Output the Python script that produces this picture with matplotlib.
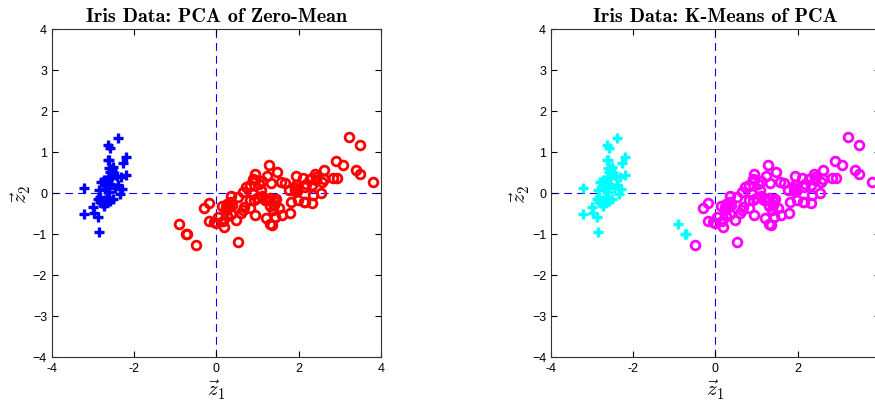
import os
import matplotlib
matplotlib.use('Agg')
import matplotlib.pyplot as plt
from matplotlib.font_manager import FontProperties

plt.rcParams['font.family'] = ['Liberation Sans', 'DejaVu Sans']
plt.rcParams['mathtext.fontset'] = 'cm'

# first two principal components of the zero-mean iris data
z1 = [-2.684, -2.714, -2.889, -2.745, -2.729, -2.281, -2.821, -2.626, -2.886, -2.673,
      -2.507, -2.613, -2.786, -3.224, -2.645, -2.386, -2.624, -2.648, -2.200, -2.588,
      -2.310, -2.544, -3.216, -2.303, -2.356, -2.507, -2.469, -2.562, -2.640, -2.632,
      -2.587, -2.410, -2.649, -2.599, -2.637, -2.866, -2.625, -2.801, -2.981, -2.590,
      -2.770, -2.849, -2.997, -2.406, -2.209, -2.714, -2.538, -2.839, -2.543, -2.703,
      1.285, 0.932, 1.464, 0.183, 1.088, 0.642, 1.095, -0.749, 1.044, -0.009,
      -0.508, 0.512, 0.265, 0.985, -0.174, 0.928, 0.660, 0.236, 0.945, 0.045,
      1.116, 0.358, 1.298, 0.922, 0.715, 0.900, 1.332, 1.558, 0.813, -0.306,
      -0.068, -0.190, 0.136, 1.380, 0.588, 0.807, 1.221, 0.815, 0.246, 0.166,
      0.465, 0.891, 0.231, -0.705, 0.357, 0.332, 0.376, 0.643, -0.906, 0.299,
      2.531, 1.415, 2.617, 1.972, 2.350, 3.397, 0.521, 2.933, 2.321, 2.917,
      1.662, 1.803, 2.166, 1.346, 1.586, 1.904, 1.950, 3.487, 3.796, 1.301,
      2.428, 1.199, 3.500, 1.389, 2.275, 2.614, 1.259, 1.291, 2.124, 2.388,
      2.842, 3.231, 2.159, 1.444, 1.781, 3.076, 2.144, 1.905, 1.169, 2.108,
      2.314, 1.922, 1.415, 2.563, 2.419, 1.944, 1.527, 1.764, 1.901, 1.390]
z2 = [0.319, -0.177, -0.145, -0.318, 0.327, 0.741, -0.089, 0.163, -0.578, -0.114,
      0.645, 0.015, -0.235, -0.511, 1.179, 1.338, 0.811, 0.312, 0.873, 0.514,
      0.391, 0.433, 0.133, 0.099, -0.037, -0.146, 0.131, 0.368, 0.312, -0.197,
      -0.204, 0.411, 0.813, 1.093, -0.121, 0.069, 0.599, 0.269, -0.488, 0.229,
      0.264, -0.941, -0.342, 0.189, 0.437, -0.250, 0.504, -0.228, 0.579, 0.108,
      0.685, 0.318, 0.504, -0.828, 0.075, -0.418, 0.283, -1.005, 0.228, -0.723,
      -1.266, -0.104, -0.550, -0.125, -0.255, 0.467, -0.353, -0.334, -0.543, -0.584,
      -0.085, -0.069, -0.328, -0.183, 0.149, 0.329, 0.244, 0.267, -0.163, -0.368,
      -0.705, -0.680, -0.314, -0.421, -0.484, 0.194, 0.408, -0.372, -0.269, -0.682,
      -0.671, -0.034, -0.404, -1.012, -0.505, -0.213, -0.293, 0.018, -0.756, -0.349,
      -0.010, -0.575, 0.344, -0.180, -0.040, 0.551, -1.193, 0.356, -0.244, 0.783,
      0.242, -0.216, 0.216, -0.777, -0.540, 0.119, 0.042, 1.176, 0.257, -0.761,
      0.378, -0.606, 0.461, -0.204, 0.335, 0.561, -0.180, -0.117, -0.210, 0.465,
      0.375, 1.374, -0.217, -0.143, -0.500, 0.688, 0.140, 0.049, -0.165, 0.372,
      0.184, 0.409, -0.575, 0.278, 0.305, 0.188, -0.375, 0.079, 0.117, -0.283]

n_setosa = 50
# points assigned to the '+' cluster by k-means besides the setosa ones
km_extra = [57, 93, 98]

titles = ['Iris Data: PCA of Zero-Mean', 'Iris Data: K-Means of PCA']
xticks = [-4, -2, 0, 2, 4]
yticks = [-4, -3, -2, -1, 0, 1, 2, 3, 4]

tfont = FontProperties(fname=os.path.join(matplotlib.get_data_path(), 'fonts/ttf/cmb10.ttf'), size=14.5)

fig = plt.figure(figsize=(8.75, 4.02), dpi=100)
ax1 = fig.add_axes([0.0594, 0.1095, 0.376, 0.816])
ax2 = fig.add_axes([0.6297, 0.1095, 0.376, 0.816])

plus1 = list(range(n_setosa))
circ1 = list(range(n_setosa, len(z1)))
plus2 = plus1 + km_extra
circ2 = [i for i in circ1 if i not in km_extra]

groups = [(plus1, circ1, 'blue', 'red'), (plus2, circ2, 'cyan', 'magenta')]

for k, (ax, title, (pi, ci, cp, cc)) in enumerate(zip([ax1, ax2], titles, groups)):
    ax.axvline(0, color='#0000ff', ls=(0, (7, 4.5)), lw=0.8, zorder=1)
    ax.axhline(0, color='#0000ff', ls=(0, (7, 4.5)), lw=0.8, zorder=1)
    ax.plot([z1[i] for i in pi], [z2[i] for i in pi], '+', color=cp, ms=6.5, mew=2.4, zorder=3)
    ax.plot([z1[i] for i in ci], [z2[i] for i in ci], 'o', mfc='none', mec=cc, ms=6.3, mew=2.0, zorder=3)
    ax.set_xlim(-4, 4)
    ax.set_ylim(-4, 4)
    ax.set_xticks(xticks)
    # the right panel is cut at the figure edge, so its last label is not shown
    ax.set_xticklabels([str(t) for t in xticks] if k == 0 else [str(t) for t in xticks[:-1]] + [''])
    ax.set_yticks(yticks)
    ax.tick_params(direction='in', top=True, right=True, labelsize=9, length=4, width=0.8)
    for s in ax.spines.values():
        s.set_linewidth(0.8)
        s.set_color('#333333')
    ax.set_title(title, fontproperties=tfont, pad=6)
    ax.set_xlabel(r'$\vec{z}_1$', fontsize=15, labelpad=3)
    ax.set_ylabel(r'$\vec{z}_2$', fontsize=15, labelpad=0)

fig.savefig('out.png', dpi=100)
